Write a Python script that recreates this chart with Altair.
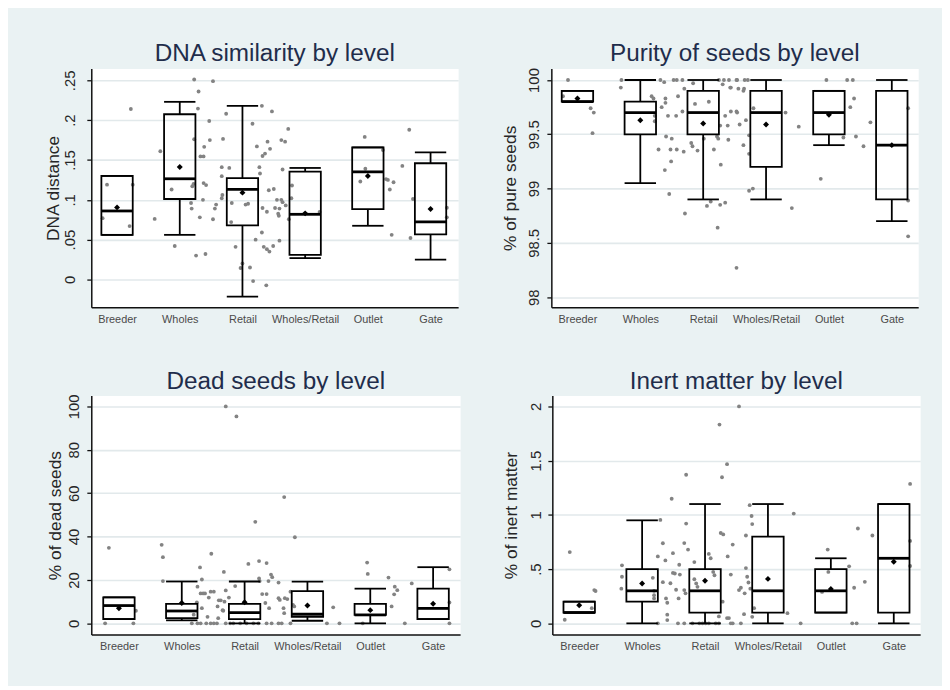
import json
import altair as alt
import pandas as pd

FONT = "Liberation Sans"
LEVELS = ["Breeder", "Wholes", "Retail", "Wholes/Retail", "Outlet", "Gate"]
LEVEL_POS = [1, 2, 3, 4, 5, 6]

# ---- DNA similarity (box statistics per level) ----
DNA_LOWER = [0.056, 0.056, -0.0215, 0.0268, 0.0674, 0.0248]
DNA_Q1 = [0.056, 0.101, 0.068, 0.031, 0.0884, 0.0566]
DNA_MED = [0.086, 0.1264, 0.113, 0.0818, 0.1351, 0.0723]
DNA_Q3 = [0.130, 0.2074, 0.1273, 0.1355, 0.1657, 0.1459]
DNA_UPPER = [0.130, 0.223, 0.2178, 0.140, 0.1657, 0.1595]
DNA_MEAN = [0.0905, 0.1413, 0.109, 0.083, 0.1298, 0.0884]
# jittered observations: (level position incl. jitter, value)
DNA_POINTS = [
    (1.22, 0.214), (0.84, 0.119), (1.25, 0.119), (0.77, 0.077), (1.20, 0.067),
    (1.60, 0.076), (1.69, 0.161), (1.87, 0.113), (1.92, 0.042), (2.23, 0.251),
    (2.30, 0.236), (2.29, 0.2145), (2.23, 0.176), (2.22, 0.120), (2.20, 0.117),
    (2.18, 0.096), (2.19, 0.089), (2.26, 0.030), (2.32, 0.078), (2.37, 0.100),
    (2.38, 0.121), (2.42, 0.1185), (2.33, 0.1545), (2.38, 0.1545), (2.39, 0.1665),
    (2.48, 0.175), (2.47, 0.199), (2.53, 0.249), (2.41, 0.032), (2.53, 0.0756),
    (2.56, 0.089), (2.58, 0.094),
    (2.69, 0.1765), (2.74, 0.208), (2.67, 0.1297), (2.67, 0.141), (2.68, 0.106),
    (2.67, 0.102), (2.79, 0.140), (2.83, 0.096), (2.82, 0.072), (2.89, 0.041),
    (2.97, 0.0144), (3.00, 0.020), (3.12, 0.015), (3.17, -0.002), (3.21, 0.050),
    (3.31, 0.059), (3.34, 0.041), (3.39, 0.038), (3.43, 0.035), (3.49, 0.042),
    (3.38, -0.0074), (3.31, 0.218), (3.47, 0.211), (3.16, 0.1955), (3.23, 0.167),
    (3.40, 0.173), (3.44, 0.164), (3.36, 0.158), (3.32, 0.155), (3.27, 0.141),
    (3.28, 0.133), (3.42, 0.112), (3.50, 0.1136), (3.32, 0.0897), (3.05, 0.094),
    (3.09, 0.095), (3.39, 0.085), (3.52, 0.0897),
    (3.73, 0.189), (3.62, 0.175), (3.68, 0.173), (3.64, 0.138), (3.79, 0.118),
    (3.78, 0.102), (3.55, 0.100), (3.62, 0.100), (3.64, 0.097), (3.69, 0.093),
    (3.59, 0.089), (3.57, 0.0826), (3.58, 0.080), (3.74, 0.0756), (3.59, 0.0487),
    (4.23, 0.0847),
    (4.95, 0.179), (4.96, 0.139), (4.88, 0.123), (5.24, 0.1625), (5.29, 0.126),
    (5.32, 0.125), (5.41, 0.122), (5.35, 0.113), (5.38, 0.056), (5.55, 0.1426),
    (5.66, 0.188), (5.72, 0.101), (5.68, 0.052), (6.26, 0.090), (6.26, 0.078),
]

# ---- Purity of seeds ----
PUR_LOWER = [99.8, 99.05, 98.9, 98.9, 99.4, 98.7]
PUR_Q1 = [99.8, 99.5, 99.5, 99.2, 99.5, 98.9]
PUR_MED = [99.8, 99.7, 99.7, 99.7, 99.7, 99.4]
PUR_Q3 = [99.9, 99.8, 99.9, 99.9, 99.9, 99.9]
PUR_UPPER = [99.9, 100.0, 100.0, 100.0, 99.9, 100.0]
PUR_MEAN = [99.83, 99.63, 99.60, 99.59, 99.68, 99.40]
PUR_POINTS = [
    (0.85, 100.0), (0.77, 99.85), (1.21, 99.74), (1.26, 99.70), (1.24, 99.51),
    (1.70, 100.0), (1.69, 99.93), (2.18, 99.85), (2.21, 99.83), (2.32, 100.0),
    (2.38, 99.98), (2.40, 99.83), (2.40, 99.79), (2.34, 99.75), (2.23, 99.67),
    (2.23, 99.62), (2.44, 99.67), (2.41, 99.48), (2.50, 99.46), (2.29, 99.36),
    (2.48, 99.36), (2.58, 99.36), (2.69, 99.34), (2.49, 99.25), (2.39, 99.17),
    (2.46, 98.95), (2.57, 99.67), (2.60, 99.85), (2.53, 100.0), (2.58, 100.0),
    (2.67, 100.0), (2.70, 99.92), (2.67, 99.71), (2.71, 98.77),
    (2.84, 99.97), (2.87, 99.78), (3.09, 99.80), (2.81, 99.42), (2.83, 99.39),
    (2.91, 99.35), (3.01, 99.46), (3.17, 99.36), (3.22, 99.48), (3.24, 99.46),
    (3.28, 99.22), (3.06, 98.84), (3.12, 98.88), (3.27, 98.85), (3.35, 98.87),
    (3.23, 98.64), (3.25, 100.0), (3.33, 100.0), (3.41, 100.0), (3.53, 100.0),
    (3.31, 99.96), (3.43, 99.93), (3.27, 99.58), (3.39, 99.58), (3.35, 99.67),
    (3.44, 99.71), (3.53, 99.71), (3.40, 99.45), (3.53, 98.27),
    (3.54, 100.0), (3.66, 100.0), (3.71, 100.0), (3.44, 99.93), (3.56, 99.92),
    (3.64, 99.90), (3.65, 99.92), (3.54, 99.70), (3.58, 99.59), (3.68, 99.63),
    (3.80, 99.74), (3.73, 99.49), (3.64, 99.40), (3.73, 99.32), (3.73, 98.98),
    (3.79, 99.00), (4.31, 99.70), (4.52, 99.57), (4.41, 98.82),
    (4.96, 100.0), (5.29, 100.0), (5.38, 100.0), (5.40, 99.83), (5.34, 99.75),
    (5.66, 99.61), (5.23, 99.47), (5.43, 99.48), (5.55, 99.39), (4.87, 99.09),
    (6.26, 99.74), (6.26, 98.89), (6.26, 98.56),
]

# ---- Dead seeds ----
DEAD_LOWER = [2.0, 1.4, 0.0, 1.2, 0.0, 2.0]
DEAD_Q1 = [2.0, 2.4, 2.0, 3.0, 3.9, 2.0]
DEAD_MED = [8.2, 5.7, 5.0, 4.2, 3.9, 6.9]
DEAD_Q3 = [12.0, 9.0, 9.0, 14.9, 9.0, 16.0]
DEAD_UPPER = [12.0, 19.3, 19.3, 19.2, 16.0, 25.9]
DEAD_MEAN = [7.0, 9.4, 9.7, 8.2, 6.1, 9.0]
DEAD_POINTS = [
    (0.84, 34.8), (0.78, 0.0), (1.23, 0.0), (1.27, 5.8),
    (1.68, 36.2), (1.70, 30.5), (1.70, 19.5), (2.29, 25.8), (2.32, 20.2),
    (2.47, 32.1), (2.25, 16.9), (2.30, 13.8), (2.34, 13.8), (2.37, 13.8),
    (2.46, 14.6), (2.51, 14.6), (2.32, 7.0), (2.24, 9.7), (2.41, 3.0),
    (2.43, 11.9), (2.59, 10.6), (2.62, 10.6), (2.57, 7.8), (2.67, 23.7),
    (2.70, 15.2), (2.75, 11.9), (2.58, 2.4), (2.66, 5.8), (2.16, 0.0),
    (2.25, 0.0), (2.30, 0.0), (2.39, 0.0), (2.46, 0.0), (2.51, 0.0),
    (2.56, 0.0), (2.19, 4.0),
    (2.70, 100.0), (2.87, 95.4), (3.17, 46.8), (3.06, 27.4), (3.23, 28.7),
    (3.35, 27.8), (2.85, 17.2), (3.23, 20.7), (3.24, 19.5), (3.42, 22.5),
    (3.44, 21.3), (3.38, 19.5), (3.28, 13.5), (3.35, 13.5), (3.33, 9.4),
    (3.39, 7.0), (3.54, 18.8), (2.68, 10.0), (2.65, 6.1), (2.70, 0.0),
    (2.77, 0.0), (2.82, 0.0), (2.93, 0.0), (3.03, 0.0), (3.14, 0.0),
    (3.22, 0.0), (3.35, 0.0), (3.43, 0.0), (3.54, 0.0), (3.59, 0.0),
    (3.63, 58.2), (3.80, 39.7), (3.54, 11.6), (3.56, 10.8), (3.64, 11.6),
    (3.68, 11.2), (3.62, 7.0), (3.63, 4.7), (3.73, 14.6), (3.77, 8.5),
    (3.79, 7.8), (4.41, 7.4), (4.31, 0.0), (4.51, 0.0), (3.73, 0.0),
    (4.95, 28.0), (4.96, 22.8), (4.88, 0.0), (5.29, 21.1), (5.39, 16.9),
    (5.43, 15.3), (5.38, 13.4), (5.34, 7.8), (5.55, 0.0),
    (5.66, 18.4), (6.26, 24.9), (6.26, 9.6), (6.26, 0.0),
]

# ---- Inert matter ----
INERT_LOWER = [0.1, 0.0, 0.0, 0.0, 0.1, 0.0]
INERT_Q1 = [0.1, 0.2, 0.1, 0.1, 0.1, 0.1]
INERT_MED = [0.1, 0.3, 0.3, 0.3, 0.3, 0.6]
INERT_Q3 = [0.2, 0.5, 0.5, 0.8, 0.5, 1.1]
INERT_UPPER = [0.2, 0.95, 1.1, 1.1, 0.6, 1.1]
INERT_MEAN = [0.167, 0.368, 0.392, 0.41, 0.316, 0.568]
INERT_POINTS = [
    (0.85, 0.657), (0.77, 0.033), (1.24, 0.307), (1.26, 0.298), (1.20, 0.14),
    (1.68, 0.535), (1.68, 0.43), (1.67, 0.32), (2.17, 0.42), (2.19, 0.30),
    (2.19, 0.26), (2.19, 0.23), (2.29, 0.954), (2.25, 0.0), (2.33, 0.739),
    (2.25, 0.617), (2.37, 0.58), (2.33, 0.38), (2.38, 0.23), (2.40, 0.19),
    (2.40, 0.08), (2.40, 0.03), (2.49, 0.647), (2.47, 1.149), (2.45, 0.37),
    (2.49, 0.465), (2.52, 0.46), (2.54, 0.31), (2.59, 0.54), (2.58, 0.23),
    (2.60, 0.45), (2.57, 0.0), (2.67, 0.0), (2.70, 1.37), (2.70, 0.92),
    (2.67, 0.74), (2.73, 0.68), (2.67, 0.307), (2.69, 0.277),
    (2.83, 0.565), (2.83, 0.407), (2.86, 0.368), (2.88, 0.337), (2.80, 0.0),
    (2.91, 0.0), (2.96, 0.0), (3.01, 0.0), (3.06, 0.0), (3.17, 0.0),
    (3.22, 0.0), (3.06, 0.64), (3.09, 0.60), (3.13, 0.474), (3.15, 0.444),
    (3.23, 1.833), (3.35, 1.468), (3.27, 1.347), (3.25, 0.833), (3.29, 0.82),
    (3.36, 0.617), (3.44, 0.726), (3.41, 0.45), (3.28, 0.2), (3.22, 0.064),
    (3.35, 0.049), (3.38, 0.049), (3.41, 0.0), (3.44, 0.0), (3.57, 0.0),
    (3.54, 2.0), (3.54, 0.307), (3.57, 0.328),
    (3.65, 0.81), (3.71, 1.09), (3.74, 0.99), (3.75, 0.915), (3.65, 0.51),
    (3.67, 0.43), (3.69, 0.377), (3.72, 0.32), (3.63, 0.277), (3.78, 0.14),
    (3.75, 0.06), (3.62, 0.085), (4.31, 0.094), (4.41, 1.012), (4.52, 0.0),
    (4.95, 0.68), (4.96, 0.474), (4.86, 0.29), (5.29, 0.526), (5.37, 0.328),
    (5.43, 0.875), (5.34, 0.0), (5.41, 0.0), (5.54, 0.383), (5.66, 0.81),
    (6.26, 1.286), (6.26, 0.76), (6.26, 0.529),
]

XLABEL_EXPR = json.dumps(LEVELS) + "[datum.value - 1]"
YLABEL_EXPR = "datum.value == 0 ? '0' : replace(toString(datum.value), '0.', '.')"
HALF = 0.25
YLAB_SIZE = 15


def panel(title, ytitle, ydomain, yticks, stats, points, xdomain, width,
          title_x, label_pad, height=241):
    lower, q1, med, q3, upper, mean = stats
    bdf = pd.DataFrame({"pos": LEVEL_POS, "level": LEVELS, "lower": lower,
                        "q1": q1, "med": med, "q3": q3, "upper": upper,
                        "mean": mean})
    pdf = pd.DataFrame(points, columns=["xpos", "val"])
    tdf = pd.DataFrame({"t": [title]})
    xs = alt.Scale(domain=xdomain, nice=False, zero=False)
    ys = alt.Scale(domain=ydomain, nice=False, zero=False)
    xaxis = alt.Axis(values=LEVEL_POS, labelExpr=XLABEL_EXPR, title=None,
                     grid=False, ticks=False, domainColor="#111111",
                     domainWidth=1.5, labelFont=FONT, labelFontSize=11,
                     labelColor="#4a4a4a", labelPadding=6,
                     labelOverlap=False, labelFlush=False)
    yaxis = alt.Axis(values=yticks, labelExpr=YLABEL_EXPR, title=ytitle,
                     grid=True, gridColor="#E2E9EB", gridWidth=1.6,
                     tickSize=4.5, tickWidth=1.3, tickColor="#111111",
                     domainColor="#111111", domainWidth=1.5,
                     labelAngle=270, labelAlign="center",
                     labelBaseline="alphabetic", labelPadding=label_pad,
                     labelFont=FONT, labelFontSize=YLAB_SIZE,
                     labelColor="#262626",
                     labelOverlap=False, labelFlush=False,
                     titleFont=FONT, titleFontSize=17.5,
                     titleFontWeight="normal", titleColor="#262626",
                     titleAngle=270, titleBaseline="alphabetic",
                     titleAlign="center", titleX=title_x, titleY=height / 2)

    def X(f):
        return alt.X(f, type="quantitative", scale=xs, axis=xaxis)

    def Y(f):
        return alt.Y(f, type="quantitative", scale=ys, axis=yaxis)

    pts = alt.Chart(pdf).mark_circle(size=15, color="#838383", opacity=1).encode(
        x=X("xpos"), y=Y("val"))
    base = alt.Chart(bdf).transform_calculate(
        left=f"datum.pos - {HALF}", right=f"datum.pos + {HALF}")
    line = dict(color="black", strokeWidth=1.8)
    whisk_up = base.mark_rule(**line).encode(x=X("pos"), y=Y("q3"), y2="upper")
    whisk_lo = base.mark_rule(**line).encode(x=X("pos"), y=Y("lower"), y2="q1")
    cap_up = base.mark_rule(**line).encode(x=X("left"), x2="right", y=Y("upper"))
    cap_lo = base.mark_rule(**line).encode(x=X("left"), x2="right", y=Y("lower"))
    box = base.mark_rect(fillOpacity=0, stroke="black", strokeWidth=1.8).encode(
        x=X("left"), x2="right", y=Y("q1"), y2="q3")
    med_l = base.mark_rule(color="black", strokeWidth=2.8).encode(
        x=X("left"), x2="right", y=Y("med"))
    mn = base.mark_point(shape="diamond", filled=True, color="black", size=36,
                         opacity=1).encode(x=X("pos"), y=Y("mean"))
    ttl = alt.Chart(tdf).mark_text(font=FONT, fontSize=24.5, color="#1f2d4b",
                                   baseline="alphabetic", align="center").encode(
        text="t:N", x=alt.value(width / 2), y=alt.value(-7))
    return alt.layer(pts, whisk_up, whisk_lo, cap_up, cap_lo, box, med_l, mn, ttl).properties(
        width=width, height=height)


p1 = panel("DNA similarity by level", "DNA distance", [-0.035, 0.265],
           [0, 0.05, 0.1, 0.15, 0.2, 0.25],
           (DNA_LOWER, DNA_Q1, DNA_MED, DNA_Q3, DNA_UPPER, DNA_MEAN),
           DNA_POINTS, [0.589, 6.44], 370, -33, 12.5)
p2 = panel("Purity of seeds by level", "% of pure seeds", [97.906, 100.107],
           [98, 98.5, 99, 99.5, 100],
           (PUR_LOWER, PUR_Q1, PUR_MED, PUR_Q3, PUR_UPPER, PUR_MEAN),
           PUR_POINTS, [0.585, 6.42], 370, -36, 8)
p3 = panel("Dead seeds by level", "% of dead seeds", [-5.15, 105],
           [0, 20, 40, 60, 80, 100],
           (DEAD_LOWER, DEAD_Q1, DEAD_MED, DEAD_Q3, DEAD_UPPER, DEAD_MEAN),
           DEAD_POINTS, [0.56, 6.43], 372, -31.5, 8)
p4 = panel("Inert matter by level", "% of inert matter", [-0.103, 2.1],
           [0, 0.5, 1, 1.5, 2],
           (INERT_LOWER, INERT_Q1, INERT_MED, INERT_Q3, INERT_UPPER, INERT_MEAN),
           INERT_POINTS, [0.573, 6.42], 371, -36, 7)

chart = alt.vconcat(
    alt.hconcat(p1, p2, spacing=42),
    alt.hconcat(p3, p4, spacing=41),
    spacing=43,
).configure(
    background="#EAF2F3",
    padding={"left": 36, "top": 30, "right": 21, "bottom": 31},
).configure_view(fill="white", stroke="transparent")

chart.save("out.html", embed_options={"renderer": "svg", "actions": False})
